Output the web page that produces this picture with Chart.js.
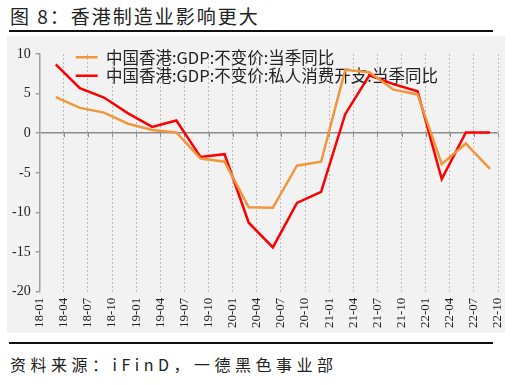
<!DOCTYPE html>
<html>
<head>
<meta charset="utf-8">
<script src="https://cdn.jsdelivr.net/npm/chart.js@4.4.0/dist/chart.umd.min.js"></script>
<style>
  body { margin: 0; width: 512px; height: 385px; background: #fff; position: relative; overflow: hidden; font-family: "Noto Sans CJK SC", sans-serif; }
  #title { position: absolute; left: 10px; top: 4px; font-size: 19px; line-height: 24px; letter-spacing: 2px; color: #222; }
  .rule { position: absolute; left: 9px; width: 484px; height: 2px; background: #111; }
  #panel { position: absolute; left: 7px; top: 36px; width: 498px; height: 297px; background: #f2f2f2; }
  #source { position: absolute; left: 10px; top: 353px; font-size: 16px; line-height: 22px; letter-spacing: 4.5px; color: #222; }
</style>
</head>
<body>
<div id="title">图 8：香港制造业影响更大</div>
<div class="rule" style="top:30px"></div>
<div id="panel"><canvas id="chart" width="498" height="297"></canvas></div>
<div class="rule" style="top:342px"></div>
<div id="source">资料来源：iFinD，一德黑色事业部</div>
<script>
  // axis labels, one every quarter starting 18-01
  const tickLabels = ['18-01', '18-04', '18-07', '18-10', '19-01', '19-04', '19-07', '19-10', '20-01', '20-04',
    '20-07', '20-10', '21-01', '21-04', '21-07', '21-10', '22-01', '22-04', '22-07', '22-10'];
  // data points sit at quarter end
  const quarterDates = ['18-03', '18-06', '18-09', '18-12', '19-03', '19-06', '19-09', '19-12', '20-03', '20-06',
    '20-09', '20-12', '21-03', '21-06', '21-09', '21-12', '22-03', '22-06', '22-09'];
  const seriesNames = ['中国香港:GDP:不变价:当季同比', '中国香港:GDP:不变价:私人消费开支:当季同比'];
  const gdpYoY = [4.55, 3.2, 2.6, 1.2, 0.4, 0.1, -3.2, -3.6, -9.35, -9.4, -4.1, -3.6, 8.0, 7.7, 5.5, 4.9, -3.9, -1.3, -4.5];
  const consumptionYoY = [8.7, 5.7, 4.5, 2.5, 0.8, 1.6, -3.0, -2.65, -11.3, -14.4, -8.8, -7.4, 2.4, 7.3, 6.2, 5.3, -5.8, 0.1, 0.1];

  // months since 18-01
  function monthIndex(label) {
    const parts = label.split('-');
    return (parseInt(parts[0], 10) - 18) * 12 + parseInt(parts[1], 10) - 1;
  }
  function toPoints(values) {
    return values.map((v, i) => ({ x: monthIndex(quarterDates[i]), y: v }));
  }

  const legendPlacer = {
    id: 'legendPlacer',
    afterLayout(chart) {
      const lg = chart.legend, ca = chart.chartArea;
      if (!lg) return;
      lg.left = ca.left + 34;
      lg.top = ca.top - 7;
      lg.right = lg.left + lg.width;
      lg.bottom = lg.top + ca.height;
    }
  };

  const zeroTicks = {
    id: 'zeroTicks',
    beforeDatasetsDraw(chart) {
      const { ctx, scales: { x, y } } = chart;
      const y0 = y.getPixelForValue(0);
      ctx.save();
      ctx.strokeStyle = '#8c8c8c';
      ctx.lineWidth = 1;
      x.ticks.forEach(t => {
        if (t.value === 0) return;
        const px = Math.round(x.getPixelForValue(t.value)) + 0.5;
        ctx.beginPath();
        ctx.moveTo(px, y0);
        ctx.lineTo(px, y0 + 4);
        ctx.stroke();
      });
      ctx.restore();
    }
  };

  const serif = '"Liberation Serif", "Times New Roman", serif';

  new Chart(document.getElementById('chart'), {
    type: 'line',
    data: {
      datasets: [
        { label: seriesNames[0], data: toPoints(gdpYoY), borderColor: '#F0963C', backgroundColor: '#F0963C', borderWidth: 2.5, pointRadius: 0, tension: 0 },
        { label: seriesNames[1], data: toPoints(consumptionYoY), borderColor: '#FF0000', backgroundColor: '#FF0000', borderWidth: 2.5, pointRadius: 0, tension: 0 }
      ]
    },
    options: {
      responsive: false,
      animation: false,
      layout: { padding: { left: 0, right: 7, top: 18, bottom: -1 } },
      plugins: {
        legend: {
          position: 'chartArea',
          align: 'start',
          labels: { boxWidth: 22, boxHeight: 0, padding: 2, color: '#222', font: { family: '"Noto Sans CJK SC", sans-serif', size: 16.5 } }
        },
        tooltip: { enabled: false }
      },
      scales: {
        x: {
          type: 'linear',
          min: 0,
          max: 57,
          afterFit: s => { s.paddingRight = 0; },
          ticks: {
            stepSize: 3, autoSkip: false, maxRotation: 90, minRotation: 90, padding: 6, color: '#222',
            font: { family: serif, size: 13 },
            callback: v => tickLabels[Math.round(v / 3)]
          },
          grid: { color: c => (c.tick && c.tick.value === 0) ? 'rgba(0,0,0,0)' : '#bdbdbd', lineWidth: 1, drawTicks: false },
          border: { display: false, dash: [2, 2] }
        },
        y: {
          min: -20,
          max: 10,
          ticks: { stepSize: 5, padding: 5, color: '#222', font: { family: serif, size: 14 } },
          grid: { color: c => (c.tick && c.tick.value === 0) ? '#8c8c8c' : 'rgba(0,0,0,0)', lineWidth: 1.5, tickColor: '#a0a0a0', tickLength: 4 },
          border: { color: '#a0a0a0', width: 1.5 }
        }
      }
    },
    plugins: [legendPlacer, zeroTicks]
  });
</script>
</body>
</html>
